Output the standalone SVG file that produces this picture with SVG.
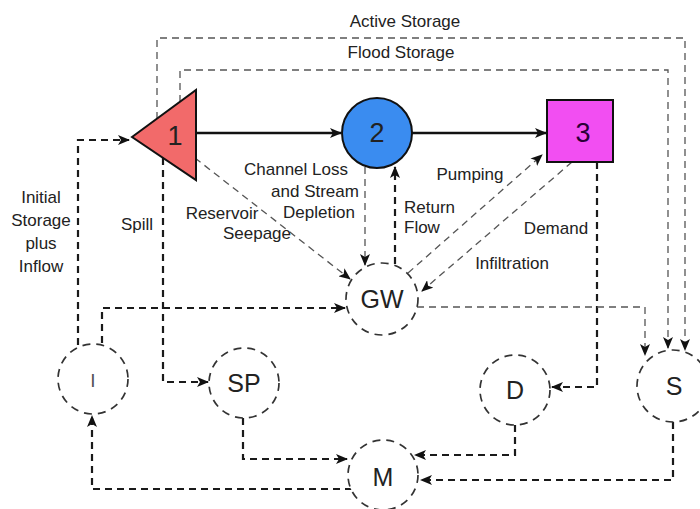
<svg xmlns="http://www.w3.org/2000/svg" width="700" height="509" viewBox="0 0 700 509">
<style>
text{font-family:"Liberation Sans",Arial,sans-serif;fill:#222;text-anchor:middle}
.lbl{font-size:17px}
.num{font-size:27px}
.nd{font-size:25px}
.thin{fill:none;stroke:#555;stroke-width:1.3;stroke-dasharray:7,5}
.bold{fill:none;stroke:#1a1a1a;stroke-width:2.2;stroke-dasharray:7,5}
.solid{fill:none;stroke:#111;stroke-width:2.4}
.ring{fill:#fff;stroke:#333;stroke-width:1.7;stroke-dasharray:8,6}
</style>
<defs>
<marker id="ah" viewBox="0 0 12 10" refX="11" refY="5" markerWidth="12" markerHeight="10" markerUnits="userSpaceOnUse" orient="auto">
<path d="M0,0 L12,5 L0,10 L3,5 z" fill="#111"/>
</marker>
</defs>
<rect width="700" height="509" fill="#fff"/>
<g id="connectors">
<path class="solid" d="M196,133 H341" marker-end="url(#ah)"/>
<path class="solid" d="M412,133 H546" marker-end="url(#ah)"/>
<path class="thin" d="M157,119 V38 H685 V350" marker-end="url(#ah)"/>
<path class="thin" d="M180,102 V70 H668 V348" marker-end="url(#ah)"/>
<path class="bold" d="M78,345 V140 H129" marker-end="url(#ah)"/>
<path class="bold" d="M102,343 V308 H345" marker-end="url(#ah)"/>
<path class="bold" d="M163,158 V382 H208" marker-end="url(#ah)"/>
<path class="bold" d="M243,418 V459 H347" marker-end="url(#ah)"/>
<path class="bold" d="M352,489 H92 V416" marker-end="url(#ah)"/>
<path class="thin" d="M195,158 L350,279" marker-end="url(#ah)"/>
<path class="thin" d="M365,167 V265" marker-end="url(#ah)"/>
<path class="bold" d="M395,264 V167" marker-end="url(#ah)"/>
<path class="thin" d="M408,273 L542,155" marker-end="url(#ah)"/>
<path class="thin" d="M572,162 L422,291" marker-end="url(#ah)"/>
<path class="bold" d="M597,162 V387 H552" marker-end="url(#ah)"/>
<path class="bold" d="M515,425 V455 H415" marker-end="url(#ah)"/>
<path class="bold" d="M673,422 V480 H421" marker-end="url(#ah)"/>
<path class="thin" d="M417,307 H645 V355" marker-end="url(#ah)"/>
</g>
<g id="edge-labels" class="lbl">
<text class="lbl" x="405" y="27">Active Storage</text>
<text class="lbl" x="401" y="58">Flood Storage</text>
<text class="lbl" x="41" y="203">Initial</text>
<text class="lbl" x="41" y="226">Storage</text>
<text class="lbl" x="41" y="249">plus</text>
<text class="lbl" x="41" y="272">Inflow</text>
<text class="lbl" x="137" y="230">Spill</text>
<text class="lbl" x="222" y="219">Reservoir</text>
<text class="lbl" x="257" y="239">Seepage</text>
<text class="lbl" x="296" y="175">Channel Loss</text>
<text class="lbl" x="315" y="197">and Stream</text>
<text class="lbl" x="319" y="218">Depletion</text>
<text class="lbl" x="470" y="180">Pumping</text>
<text class="lbl" x="404" y="213" style="text-anchor:start">Return</text>
<text class="lbl" x="404" y="233" style="text-anchor:start">Flow</text>
<text class="lbl" x="556" y="234">Demand</text>
<text class="lbl" x="512" y="269">Infiltration</text>
</g>
<g id="node-1">
<polygon points="132,137 196,90 196,180" fill="#f26a6a" stroke="#111" stroke-width="2"/>
<text class="num" x="175" y="145">1</text>
</g>
<g id="node-2">
<circle cx="377" cy="133" r="35" fill="#3a8cf0" stroke="#111" stroke-width="2"/>
<text class="num" x="377" y="142">2</text>
</g>
<g id="node-3">
<rect x="547" y="100" width="66" height="62" fill="#f24ef2" stroke="#111" stroke-width="2"/>
<text class="num" x="583" y="142" style="fill:#2a0035">3</text>
</g>
<g id="node-GW">
<circle class="ring" cx="382" cy="299" r="36"/>
<text class="nd" x="382" y="308">GW</text>
</g>
<g id="node-I">
<circle class="ring" cx="93" cy="379" r="35"/>
<text x="93" y="387" style="font-size:19px;fill:#555">I</text>
</g>
<g id="node-SP">
<circle class="ring" cx="244" cy="383" r="35"/>
<text class="nd" x="244" y="392">SP</text>
</g>
<g id="node-D">
<circle class="ring" cx="515" cy="390" r="35"/>
<text class="nd" x="515" y="399">D</text>
</g>
<g id="node-M">
<circle class="ring" cx="383" cy="475" r="35"/>
<text class="nd" x="383" y="486">M</text>
</g>
<g id="node-S">
<circle class="ring" cx="673" cy="386" r="36"/>
<text class="nd" x="674" y="395">S</text>
</g>
</svg>
